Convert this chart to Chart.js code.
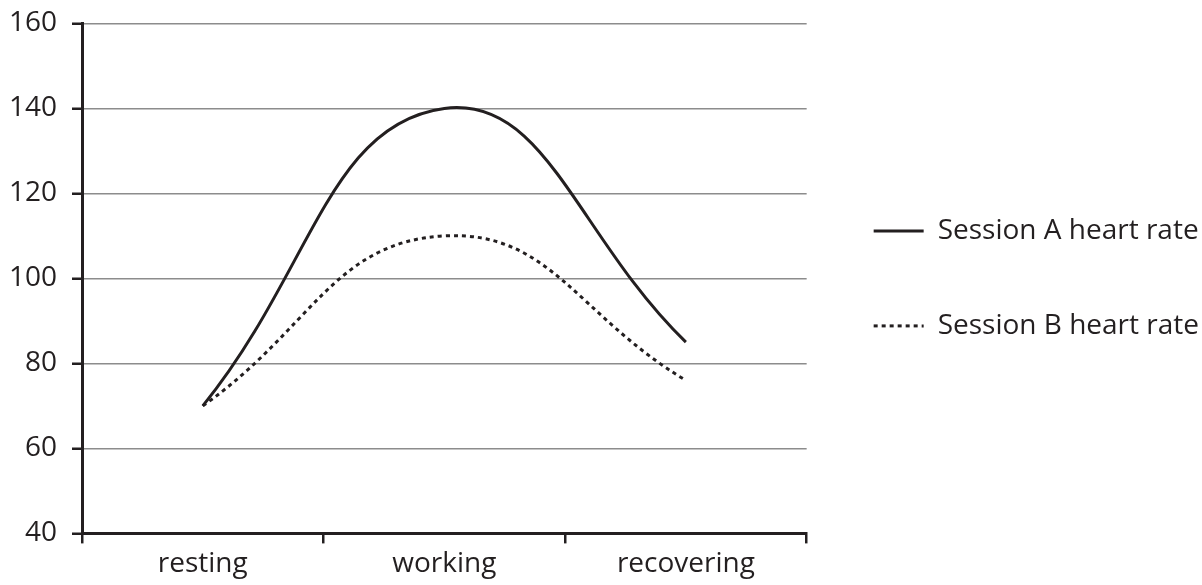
<!DOCTYPE html>
<html>
<head>
<meta charset="utf-8">
<script src="https://cdn.jsdelivr.net/npm/chart.js@4.4.1/dist/chart.umd.min.js"></script>
<style>
  html, body { margin: 0; padding: 0; background: #fff; }
  #wrap { width: 1202px; height: 585px; }
</style>
</head>
<body>
<div id="wrap"><canvas id="myChart"></canvas></div>
<script>
// data
const phases = ['resting', 'working', 'recovering'];
const sessionA = [70, 140, 85];
const sessionB = [70, 110, 76];
const yTicks = [40, 60, 80, 100, 120, 140, 160];

const ink = '#231f20';
const fontFamily = '"Open Sans", "Noto Sans", sans-serif';

const ctx = document.getElementById('myChart').getContext('2d');

const myChart = new Chart(ctx, {
    type: 'line',
    data: {
        labels: phases,
        datasets: [
            {
                label: 'Session A heart rate',
                data: sessionA,
                borderColor: ink,
                backgroundColor: ink,
                borderWidth: 3,
                pointRadius: 0,
                fill: false,
                tension: 0.45
            },
            {
                label: 'Session B heart rate',
                data: sessionB,
                borderColor: ink,
                backgroundColor: ink,
                borderWidth: 3,
                borderDash: [4, 4],
                pointRadius: 0,
                fill: false,
                tension: 0.45
            }
        ]
    },
    options: {
        responsive: true,
        maintainAspectRatio: false,
        animation: false,
        layout: { padding: { top: 0, left: 0, right: -7, bottom: 0 } },
        plugins: {
            tooltip: { enabled: false },
            legend: {
                position: 'right',
                fullSize: false,
                maxWidth: 420,
                labels: {
                    usePointStyle: true,
                    pointStyle: 'line',
                    pointStyleWidth: 50,
                    padding: 67,
                    color: ink,
                    font: { family: fontFamily, size: 28 },
                    // keep the dash of each dataset on its legend line
                    generateLabels: (chart) => {
                        const items = Chart.defaults.plugins.legend.labels.generateLabels(chart);
                        items.forEach(item => {
                            const ds = chart.data.datasets[item.datasetIndex];
                            item.lineDash = ds.borderDash || [];
                            item.lineWidth = ds.borderWidth;
                            item.strokeStyle = ds.borderColor;
                        });
                        return items;
                    }
                }
            }
        },
        scales: {
            x: {
                offset: true,
                grid: {
                    display: true,
                    drawOnChartArea: false,
                    offset: true,
                    tickLength: 10,
                    color: ink,
                    lineWidth: 2.5
                },
                border: { color: ink, width: 3 },
                ticks: {
                    color: ink,
                    padding: 4,
                    font: { family: fontFamily, size: 28 }
                }
            },
            y: {
                min: 40,
                max: 160,
                afterBuildTicks: (scale) => {
                    scale.ticks = yTicks.map(v => ({ value: v }));
                },
                afterFit: (scale) => { scale.width = 82; },
                grid: {
                    color: '#8c8c8c',
                    lineWidth: 1.5,
                    tickLength: 10,
                    tickColor: ink,
                    tickWidth: 2.5
                },
                border: { color: ink, width: 3 },
                ticks: {
                    color: ink,
                    padding: 15,
                    font: { family: fontFamily, size: 28, lineHeight: 0.6 }
                }
            }
        }
    }
});
</script>
</body>
</html>
